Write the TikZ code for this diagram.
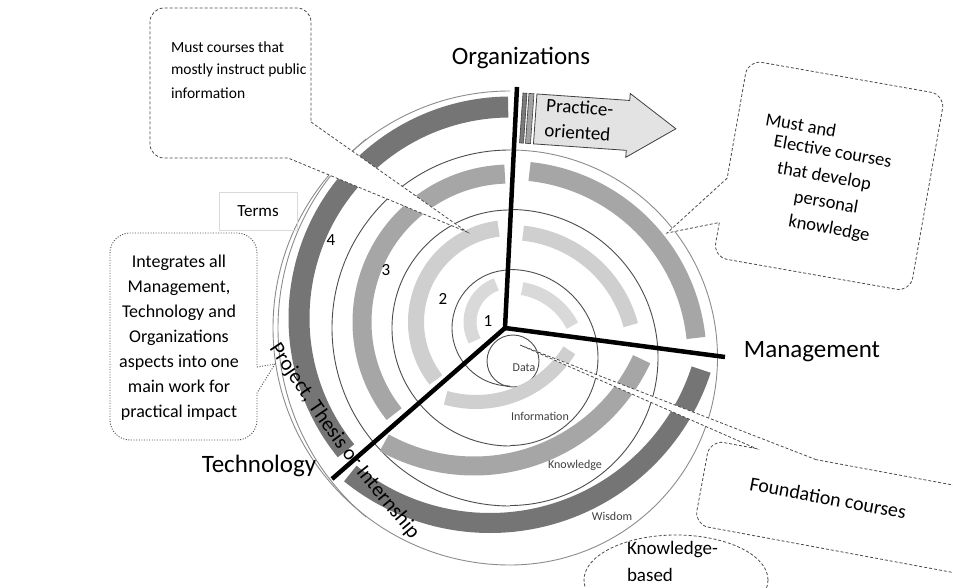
\documentclass[tikz,border=0pt]{standalone}
\usepackage{fontspec}
\setmainfont{Carlito}
\usetikzlibrary{decorations.text}
\definecolor{bandA}{HTML}{D9D9D9}
\definecolor{bandB}{HTML}{CFCFCF}
\definecolor{bandC}{HTML}{A6A6A6}
\definecolor{bandD}{HTML}{757575}
\definecolor{lineA}{HTML}{4D4D4D}
\definecolor{lineB}{HTML}{8C8C8C}
\definecolor{arrowfill}{HTML}{E3E3E3}
\definecolor{stripefill}{HTML}{7A7A7A}
\newcommand\myband[6]{\draw[#1,line width=#2pt] (#3) ++(#5:#4) arc[start angle=#5,end angle=#6,radius=#4];}
\begin{document}
\begin{tikzpicture}[x=1pt,y=-1pt,
  every node/.style={inner sep=0pt,outer sep=0pt},
  spiralline/.style={draw=lineA,line width=0.9pt},
  outerline/.style={draw=lineB,line width=0.9pt},
  spokeline/.style={line width=4.5pt,draw=black},
  calloutbox/.style={draw=black!70,fill=white,line width=0.8pt,dash pattern=on 3pt off 2pt},
  dotbox/.style={draw=black!70,fill=white,line width=0.9pt,dash pattern=on 1pt off 1.6pt},
  axislabel/.style={font=\fontsize{25}{29}\selectfont},
  boxtext/.style={font=\fontsize{15.5}{22}\selectfont},
  rbtext/.style={font=\fontsize{18.5}{22}\selectfont,rotate=-10},
  dikw/.style={font=\fontsize{12}{14}\selectfont,text=black!75},
  termnum/.style={font=\fontsize{17}{20}\selectfont}]
\useasboundingbox (0,0) rectangle (953,588);
\clip (0,0) rectangle (953,588);
\fill[white] (0,0) rectangle (953,588);

\coordinate (C) at (510,328);
\coordinate (Cr) at (510,357.5);
\coordinate (L0) at (510,322);
\coordinate (L4) at (510,318);
\coordinate (B1) at (476,292);
\coordinate (B2) at (474,281);
\coordinate (B3) at (490,301);
\coordinate (J) at (505,328);
\coordinate (orgEnd) at (517,87);
\coordinate (mgmtEnd) at (725,357);
\coordinate (techEnd) at (332,479);
\coordinate (t1) at (467,232);
\coordinate (t2) at (667,233);
\coordinate (t3) at (275,364);
\coordinate (t4) at (520,345);

% spiral of half circles
\draw[spiralline] (C) ++(90:58) arc[start angle=90,end angle=270,radius=58];
\draw[spiralline] (Cr) ++(-90:88) arc[start angle=-90,end angle=90,radius=88];
\draw[spiralline] (C) ++(90:118) arc[start angle=90,end angle=270,radius=118];
\draw[spiralline] (Cr) ++(-90:148) arc[start angle=-90,end angle=90,radius=148];
\draw[spiralline] (C) ++(90:178) arc[start angle=90,end angle=270,radius=178];
\draw[outerline] (Cr) ++(-90:207.5) arc[start angle=-90,end angle=90,radius=207.5];
\draw[outerline] (C) ++(90:237) arc[start angle=90,end angle=270,radius=237];
\draw[outerline] (524.7,328) ++(130:246.7) arc[start angle=130,end angle=230,radius=246.7];
\draw[spiralline] (513,361) circle[radius=26];

% bands
\myband{bandA}{13}{L0}{40}{152}{250}
\myband{bandB}{16}{L0}{94}{142}{263}
\myband{bandC}{19}{L0}{148}{141.5}{268}
\myband{bandD}{21}{L4}{211}{141}{269.5}
\myband{bandA}{13}{Cr}{70}{280}{333}
\myband{bandB}{15}{Cr}{125}{276}{345}
\myband{bandC}{19}{Cr}{187}{276}{354}
\myband{bandB}{14}{B1}{110}{32}{106}
\myband{bandC}{19}{B2}{185}{25}{119}
\myband{bandD}{20}{B3}{222}{18}{129}

% labels inside
\node[termnum] (n1) at (488,321) {1};
\node[termnum] (n2) at (443,299) {2};
\node[termnum] (n3) at (386,270) {3};
\node[termnum] (n4) at (331,240) {4};
\node[dikw] (data) at (524,368) {Data};
\node[dikw] (info) at (540,416) {Information};
\node[dikw] (know) at (575,465) {Knowledge};
\node[dikw] (wis) at (612,516) {Wisdom};

\path[decorate,decoration={text along path,text align=left,
  text={|\fontsize{21}{24}\selectfont|Project, Thesis or Internship}}]
  (269,348) .. controls (338,452) .. (430,562);

% spokes
\draw[spokeline] (J) -- (orgEnd);
\draw[spokeline] (J) -- (mgmtEnd);
\draw[spokeline] (J) -- (techEnd);
\fill[black] (J) circle[radius=2.3];

% practice-oriented arrow
\begin{scope}[shift={(523,93)},rotate=-4]
\draw[draw=black!75,fill=stripefill,line width=0.6pt] (0,0) rectangle (4,50);
\draw[draw=black!75,fill=stripefill!70,line width=0.6pt] (6,0) rectangle (11,50);
\draw[draw=black!75,fill=arrowfill,line width=0.8pt] (14,0) -- (107,0) -- (107,-7) -- (155,25) -- (107,57) -- (107,50) -- (14,50) -- cycle;
\end{scope}
\node[font=\fontsize{19}{25}\selectfont,rotate=-4,align=left] (prac) at (579,120) {Practice-\\oriented};

% callouts
\draw[calloutbox] (311,122) -- (t1) -- (288,158) -- (220,158) [rounded corners=14] -- (150,158) -- (150,8) -- (311,8) -- (311,60) [sharp corners] -- cycle;
\begin{scope}[shift={(748,60)},rotate=-10]
\draw[calloutbox] (0,120) -- (t2) -- (0,165) -- (0,180) [rounded corners=14] -- (0,200) -- (200,200) -- (200,0) -- (0,0) -- (0,60) [sharp corners] -- cycle;
\end{scope}
\draw[dotbox] (257,367) -- (t3) -- (257,393) -- (257,410) [rounded corners=20] -- (257,440) -- (110,440) -- (110,233) -- (257,233) -- (257,300) [sharp corners] -- cycle;
\begin{scope}[shift={(710,440)},rotate=-10.5]
\draw[calloutbox] (108,0) -- (t4) -- (47,0) -- (25,0) [rounded corners=14] -- (0,0) -- (0,86) -- (290,86) -- (290,0) -- (200,0) [sharp corners] -- cycle;
\end{scope}
\draw[calloutbox,fill=none] (676,580) ellipse[x radius=92,y radius=45];

% callout texts
\node[boxtext,anchor=west] (c1a) at (171,47) {Must courses that};
\node[boxtext,anchor=west] (c1b) at (171,70) {mostly instruct public};
\node[boxtext,anchor=west] (c1c) at (171,93) {information};
\node[rbtext] (c2a) at (801,125) {Must and};
\node[rbtext] (c2b) at (833,151) {Elective courses};
\node[rbtext] (c2c) at (824,177) {that develop};
\node[rbtext] (c2d) at (826,203) {personal};
\node[rbtext] (c2e) at (829,229) {knowledge};
\node[font=\fontsize{18}{25}\selectfont,align=center] (c3) at (179,338) {Integrates all\\Management,\\Technology and\\Organizations\\aspects into one\\main work for\\practical impact};
\node[font=\fontsize{20}{24}\selectfont,rotate=-10.5] (c4) at (828,498) {Foundation courses};
\node[font=\fontsize{19}{23}\selectfont,anchor=west] (kb1) at (627,550) {Knowledge-};
\node[font=\fontsize{19}{23}\selectfont,anchor=west] (kb2) at (627,575) {based};

% axis labels
\node[axislabel] (org) at (521,58) {Organizations};
\node[axislabel] (mgmt) at (812,352) {Management};
\node[axislabel] (tech) at (259,466) {Technology};
\node[draw=black!15,line width=0.8pt,minimum width=78pt,minimum height=38pt,font=\fontsize{17}{20}\selectfont] (terms) at (258,211) {Terms};
\end{tikzpicture}
\end{document}
